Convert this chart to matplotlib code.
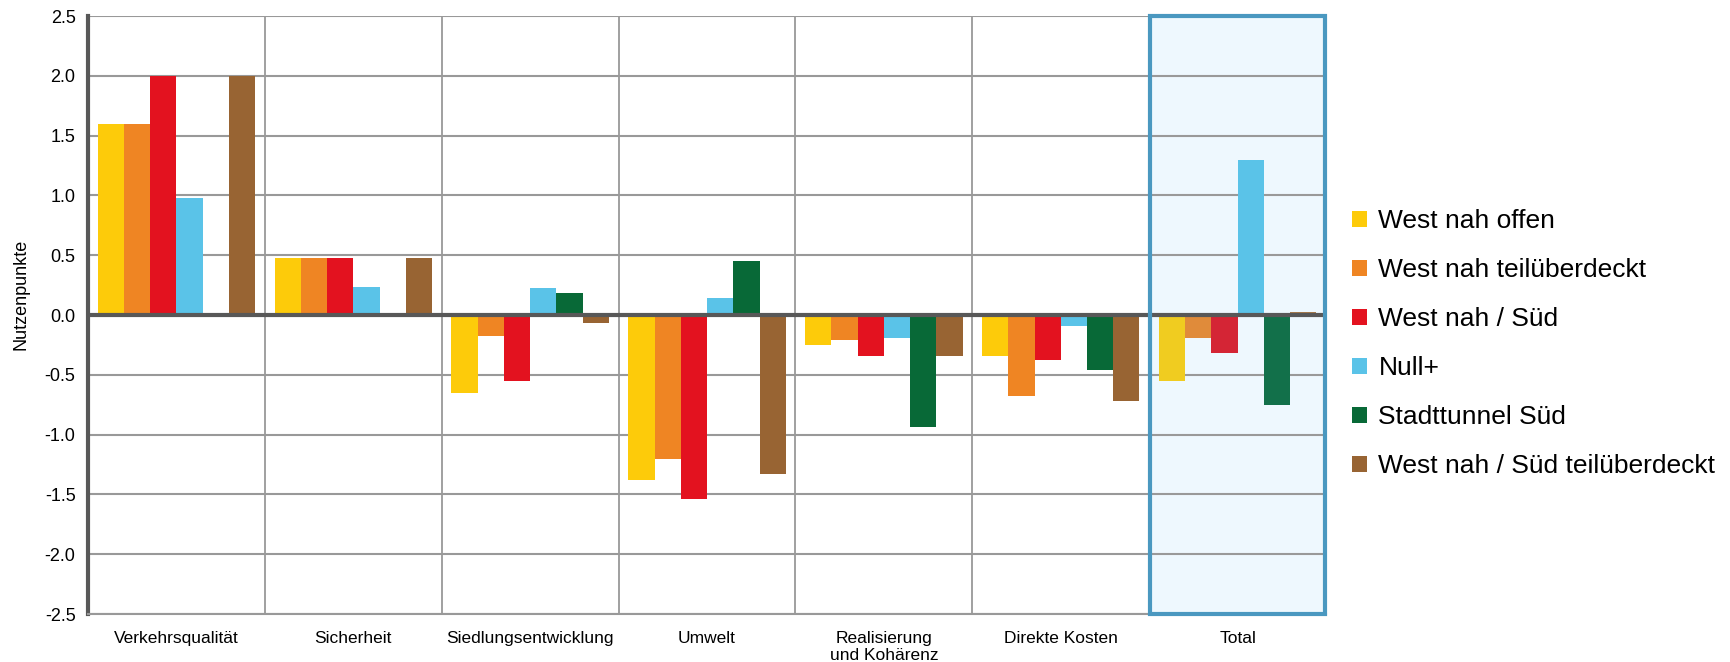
import numpy as np
import matplotlib.pyplot as plt
from matplotlib.patches import Rectangle

plt.rcParams['font.family'] = ['Liberation Sans', 'DejaVu Sans']

categories = ["Verkehrsqualität", "Sicherheit", "Siedlungsentwicklung", "Umwelt",
              "Realisierung\nund Kohärenz", "Direkte Kosten", "Total"]
series_names = ["West nah offen", "West nah teilüberdeckt", "West nah / Süd",
                "Null+", "Stadttunnel Süd", "West nah / Süd teilüberdeckt"]

west_nah_offen = [1.60, 0.48, -0.65, -1.38, -0.25, -0.34, -0.55]
west_nah_teil = [1.60, 0.48, -0.175, -1.20, -0.21, -0.68, -0.19]
west_nah_sued = [2.00, 0.48, -0.55, -1.54, -0.34, -0.38, -0.32]
null_plus = [0.98, 0.235, 0.225, 0.14, -0.19, -0.09, 1.30]
stadttunnel_sued = [0.01, 0.0, 0.18, 0.45, -0.94, -0.46, -0.75]
west_sued_teil = [2.00, 0.48, -0.065, -1.33, -0.34, -0.72, 0.025]

series = [west_nah_offen, west_nah_teil, west_nah_sued,
          null_plus, stadttunnel_sued, west_sued_teil]
colors = ["#FDCB0A", "#EF8523", "#E3121F", "#5AC3E8", "#086937", "#986433"]
total_colors = ["#F0CC20", "#E08B3A", "#D42535", "#5AC3E8", "#12704A", "#A87A4A"]

fig = plt.figure(figsize=(17.3, 6.62), dpi=100)
ax = fig.add_axes([0.0509, 0.0725, 0.7156, 0.9033])

x = np.arange(len(categories))
n = len(series)
width = 0.89 / n

# highlighted "Total" column
last = len(categories) - 1
ax.add_patch(Rectangle((last - 0.5, -2.5), 1.0, 5.0, facecolor="#EEF8FE",
                       edgecolor="none", zorder=0))

for i, (vals, name) in enumerate(zip(series, series_names)):
    offs = x + (i - (n - 1) / 2) * width
    cols = [colors[i]] * (len(categories) - 1) + [total_colors[i]]
    ax.bar(offs, vals, width=width, color=cols, label=name, zorder=3,
           linewidth=0)

ax.add_patch(Rectangle((last - 0.5 + 0.005, -2.5), 0.99, 5.0, facecolor="none",
                       edgecolor="#4A98C0", linewidth=3, zorder=5, clip_on=False))

ax.set_xlim(-0.5, len(categories) - 0.5)
ax.set_ylim(-2.5, 2.5)
ax.set_yticks(np.arange(-2.5, 2.51, 0.5))
ax.set_yticklabels([f"{v:.1f}" for v in np.arange(-2.5, 2.51, 0.5)], fontsize=13)
ax.set_xticks(x)
ax.set_xticklabels(categories, fontsize=12.5, va="top")
ax.tick_params(axis="y", length=0, pad=9)
ax.tick_params(axis="x", length=0, pad=12)

# grid
for yv in np.arange(-2.5, 2.51, 0.5):
    ax.axhline(yv, color="#999999", linewidth=1.5, zorder=1)
for xv in np.arange(0.5, len(categories) - 1, 1):
    ax.axvline(xv, color="#999999", linewidth=1.3, zorder=1)
ax.axhline(0, color="#585858", linewidth=3, zorder=4)

for s in ["top", "right"]:
    ax.spines[s].set_visible(False)
ax.spines["left"].set_color("#585858")
ax.spines["left"].set_linewidth(3)
ax.spines["bottom"].set_color("#999999")
ax.spines["bottom"].set_linewidth(1.5)

ax.set_ylabel("Nutzenpunkte", fontsize=13)
ax.yaxis.set_label_coords(-0.047, 0.535)

ax.legend(loc="center left", bbox_to_anchor=(1.021, 0.452), frameon=False,
          fontsize=19, handlelength=0.55, handleheight=0.55, handletextpad=0.45,
          labelspacing=0.95, borderaxespad=0, borderpad=0)

fig.savefig("out.png", dpi=100)
